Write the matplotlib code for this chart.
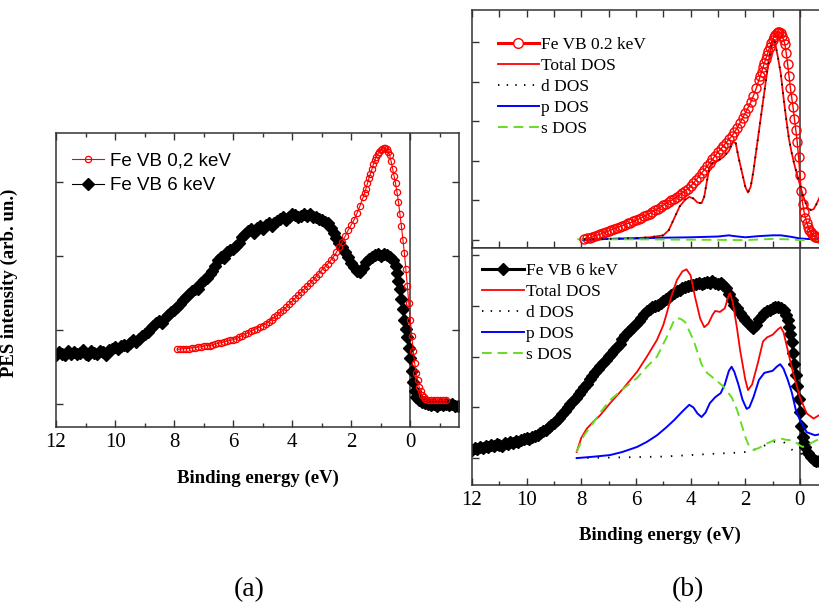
import numpy as np
import matplotlib
matplotlib.use("Agg")
import matplotlib.pyplot as plt
from matplotlib.ticker import MultipleLocator

plt.rcParams['font.family'] = ['Liberation Serif', 'DejaVu Serif']

# ======================================================
# DATA
# ======================================================
# ---- panel (a): Fe VB 0,2 keV (red open circles)
e_a_soft = [7.9, 7.8, 7.7, 7.6, 7.5, 7.4, 7.3, 7.2, 7.1, 7.0,
            6.9, 6.8, 6.7, 6.6, 6.5, 6.4, 6.3, 6.2, 6.1, 6.0,
            5.9, 5.8, 5.7, 5.6, 5.5, 5.4, 5.3, 5.2, 5.1, 5.0,
            4.9, 4.8, 4.7, 4.6, 4.5, 4.4, 4.3, 4.2, 4.1, 4.0,
            3.9, 3.8, 3.7, 3.6, 3.5, 3.4, 3.3, 3.2, 3.1, 3.0,
            2.9, 2.8, 2.7, 2.6, 2.5, 2.4, 2.3, 2.2, 2.1, 2.0,
            1.9, 1.8, 1.7, 1.6, 1.55, 1.5, 1.45, 1.4, 1.35, 1.3,
            1.25, 1.2, 1.15, 1.1, 1.05, 1.0, 0.95, 0.9, 0.85, 0.8,
            0.75, 0.7, 0.65, 0.6, 0.55, 0.5, 0.45, 0.4, 0.35, 0.3,
            0.25, 0.2, 0.15, 0.1, 0.05, 0.0, -0.05, -0.1, -0.15, -0.2,
            -0.25, -0.3, -0.35, -0.4, -0.45, -0.5, -0.6, -0.7, -0.8, -0.9,
            -1.0, -1.1, -1.2]
i_a_soft = [0.74, 0.74, 0.75, 0.75, 0.75, 0.76, 0.76, 0.77, 0.77, 0.78,
            0.79, 0.79, 0.80, 0.81, 0.82, 0.83, 0.84, 0.85, 0.86, 0.87,
            0.88, 0.90, 0.92, 0.94, 0.96, 0.98, 1.00, 1.02, 1.04, 1.06,
            1.08, 1.11, 1.14, 1.17, 1.20, 1.24, 1.27, 1.31, 1.35, 1.39,
            1.43, 1.47, 1.51, 1.55, 1.59, 1.63, 1.67, 1.72, 1.76, 1.81,
            1.85, 1.89, 1.94, 1.99, 2.05, 2.12, 2.19, 2.27, 2.35, 2.42,
            2.49, 2.58, 2.68, 2.79, 2.85, 2.91, 2.98, 3.05, 3.11, 3.17,
            3.24, 3.29, 3.34, 3.38, 3.41, 3.43, 3.45, 3.46, 3.46, 3.44,
            3.41, 3.36, 3.28, 3.18, 3.08, 2.98, 2.86, 2.73, 2.56, 2.40,
            2.22, 2.04, 1.82, 1.60, 1.36, 1.14, 0.92, 0.72, 0.55, 0.42,
            0.32, 0.23, 0.17, 0.12, 0.09, 0.07, 0.05, 0.05, 0.05, 0.05,
            0.05, 0.05, 0.05]

# ---- panel (a): Fe VB 6 keV (black diamonds)
e_a_hard = [12.0, 11.9, 11.8, 11.7, 11.6, 11.5, 11.4, 11.3, 11.2, 11.1,
            11.0, 10.9, 10.8, 10.7, 10.6, 10.5, 10.4, 10.3, 10.2, 10.1,
            10.0, 9.9, 9.8, 9.7, 9.6, 9.5, 9.4, 9.3, 9.2, 9.1,
            9.0, 8.9, 8.8, 8.7, 8.6, 8.5, 8.4, 8.3, 8.2, 8.1,
            8.0, 7.9, 7.8, 7.7, 7.6, 7.5, 7.4, 7.3, 7.2, 7.1,
            7.0, 6.9, 6.8, 6.7, 6.6, 6.5, 6.4, 6.3, 6.2, 6.1,
            6.0, 5.9, 5.8, 5.7, 5.6, 5.5, 5.4, 5.3, 5.2, 5.1,
            5.0, 4.9, 4.8, 4.7, 4.6, 4.5, 4.4, 4.3, 4.2, 4.1,
            4.0, 3.9, 3.8, 3.7, 3.6, 3.5, 3.4, 3.3, 3.2, 3.1,
            3.0, 2.9, 2.8, 2.7, 2.6, 2.5, 2.4, 2.3, 2.2, 2.1,
            2.0, 1.9, 1.8, 1.7, 1.6, 1.5, 1.4, 1.3, 1.2, 1.1,
            1.0, 0.9, 0.8, 0.7, 0.6, 0.5, 0.45, 0.4, 0.35, 0.3,
            0.25, 0.2, 0.15, 0.1, 0.05, 0.0, -0.05, -0.1, -0.15, -0.2,
            -0.3, -0.4, -0.5, -0.6, -0.7, -0.8, -0.9, -1.0, -1.1, -1.2,
            -1.3, -1.4, -1.5, -1.6]
i_a_hard = [0.66, 0.70, 0.68, 0.66, 0.71, 0.68, 0.70, 0.67, 0.69, 0.73,
            0.68, 0.66, 0.71, 0.69, 0.67, 0.72, 0.70, 0.66, 0.73, 0.75,
            0.77, 0.75, 0.78, 0.80, 0.79, 0.83, 0.86, 0.84, 0.88, 0.92,
            0.95, 0.97, 1.02, 1.06, 1.09, 1.12, 1.10, 1.16, 1.20, 1.24,
            1.27, 1.31, 1.35, 1.40, 1.44, 1.49, 1.53, 1.56, 1.55, 1.63,
            1.67, 1.70, 1.76, 1.80, 1.87, 1.95, 1.99, 1.97, 2.05, 2.08,
            2.10, 2.13, 2.18, 2.25, 2.29, 2.33, 2.36, 2.31, 2.38, 2.40,
            2.37, 2.42, 2.45, 2.40, 2.44, 2.47, 2.50, 2.52, 2.49, 2.53,
            2.56, 2.55, 2.53, 2.54, 2.56, 2.54, 2.57, 2.53, 2.52, 2.50,
            2.48, 2.46, 2.45, 2.38, 2.31, 2.24, 2.18, 2.12, 2.05, 1.98,
            1.90, 1.85, 1.80, 1.78, 1.84, 1.92, 1.96, 1.98, 2.01, 2.02,
            2.00, 2.02, 2.01, 1.99, 1.95, 1.86, 1.77, 1.66, 1.55, 1.42,
            1.28, 1.14, 1.02, 0.90, 0.76, 0.62, 0.45, 0.30, 0.18, 0.10,
            0.05, 0.03, 0.02, 0.00, -0.01, 0.00, -0.02, 0.00, -0.01, 0.00,
            -0.01, 0.00, -0.02, -0.03]

# ---- panel (b) top: Fe VB 0.2 keV + calculated DOS
e_b_soft = [7.9, 7.8, 7.7, 7.6, 7.5, 7.4, 7.3, 7.2, 7.1, 7.0,
            6.9, 6.8, 6.7, 6.6, 6.5, 6.4, 6.3, 6.2, 6.1, 6.0,
            5.9, 5.8, 5.7, 5.6, 5.5, 5.4, 5.3, 5.2, 5.1, 5.0,
            4.9, 4.8, 4.7, 4.6, 4.5, 4.4, 4.3, 4.2, 4.1, 4.0,
            3.9, 3.8, 3.7, 3.6, 3.5, 3.4, 3.3, 3.2, 3.1, 3.0,
            2.9, 2.8, 2.7, 2.6, 2.5, 2.4, 2.3, 2.2, 2.1, 2.0,
            1.9, 1.8, 1.7, 1.6, 1.5, 1.45, 1.4, 1.35, 1.3, 1.25,
            1.2, 1.15, 1.1, 1.05, 1.0, 0.95, 0.9, 0.85, 0.8, 0.75,
            0.7, 0.65, 0.6, 0.55, 0.5, 0.45, 0.4, 0.35, 0.3, 0.25,
            0.2, 0.15, 0.1, 0.05, 0.0, -0.05, -0.1, -0.15, -0.2, -0.25,
            -0.3, -0.35, -0.4, -0.45, -0.5, -0.55, -0.6, -0.7, -0.8, -0.9,
            -1.0, -1.2, -1.4, -1.6]
i_b_soft = [0.02, 0.04, 0.06, 0.08, 0.10, 0.13, 0.15, 0.18, 0.20, 0.23,
            0.26, 0.28, 0.31, 0.34, 0.36, 0.39, 0.42, 0.44, 0.47, 0.50,
            0.53, 0.56, 0.60, 0.63, 0.67, 0.71, 0.75, 0.79, 0.83, 0.88,
            0.92, 0.96, 1.00, 1.04, 1.09, 1.14, 1.19, 1.25, 1.30, 1.36,
            1.44, 1.52, 1.60, 1.69, 1.77, 1.86, 1.95, 2.04, 2.13, 2.22,
            2.30, 2.38, 2.46, 2.54, 2.62, 2.72, 2.83, 2.95, 3.08, 3.21,
            3.34, 3.48, 3.65, 3.83, 4.04, 4.15, 4.25, 4.36, 4.47, 4.58,
            4.68, 4.78, 4.88, 4.98, 5.06, 5.13, 5.19, 5.24, 5.26, 5.26,
            5.22, 5.15, 5.06, 4.95, 4.72, 4.45, 4.15, 3.85, 3.60, 3.35,
            3.05, 2.78, 2.48, 2.10, 1.65, 1.25, 0.92, 0.72, 0.56, 0.44,
            0.34, 0.26, 0.20, 0.15, 0.12, 0.09, 0.08, 0.06, 0.05, 0.04,
            0.04, 0.03, 0.03, 0.03]

e_tot_top = [7.9, 7.0, 6.0, 5.5, 5.0, 4.8, 4.6, 4.4, 4.2, 4.05,
             3.9, 3.75, 3.6, 3.5, 3.4, 3.3, 3.2, 3.0, 2.8, 2.6,
             2.45, 2.35, 2.25, 2.1, 2.0, 1.9, 1.8, 1.7, 1.6, 1.5,
             1.4, 1.3, 1.2, 1.1, 1.0, 0.95, 0.9, 0.8, 0.7, 0.6,
             0.5, 0.4, 0.3, 0.2, 0.1, 0.0, -0.1, -0.2, -0.3, -0.4,
             -0.5, -0.6, -0.7, -0.8, -1.0, -1.2, -1.4, -1.6]
tot_top = [0.02, 0.03, 0.05, 0.07, 0.12, 0.25, 0.55, 0.85, 1.02, 1.09,
           1.05, 0.95, 0.93, 1.10, 1.50, 1.85, 1.95, 2.00, 2.10, 2.25,
           2.48, 2.45, 2.10, 1.65, 1.35, 1.20, 1.35, 1.75, 2.25, 2.75,
           3.25, 3.75, 4.25, 4.70, 5.03, 5.05, 4.95, 4.60, 4.20, 3.60,
           3.05, 2.55, 2.20, 1.90, 1.65, 1.40, 1.15, 0.95, 0.80, 0.76,
           0.78, 0.90, 1.05, 1.20, 1.35, 1.45, 1.50, 1.50]
d_top = tot_top  # d DOS lies on top of the total DOS in this panel

e_p_top = [7.95, 7.0, 6.0, 5.0, 4.0, 3.5, 3.0, 2.6, 2.4, 2.0,
           1.5, 1.0, 0.7, 0.3, 0.0, -0.5, -1.0, -1.6]
p_top = [0.00, 0.03, 0.04, 0.06, 0.07, 0.08, 0.09, 0.12, 0.10, 0.07,
         0.10, 0.12, 0.12, 0.08, 0.04, 0.02, 0.02, 0.02]

e_s_top = [8.15, 6.0, 4.0, 2.0, 1.0, 0.5, 0.0, -0.8, -1.6]
s_top = [0.02, 0.02, 0.01, 0.00, 0.03, 0.02, 0.00, 0.00, 0.00]

# ---- panel (b) bottom: Fe VB 6 keV + calculated DOS
e_b_hard = [12.0, 11.9, 11.8, 11.7, 11.6, 11.5, 11.4, 11.3, 11.2, 11.1,
            11.0, 10.9, 10.8, 10.7, 10.6, 10.5, 10.4, 10.3, 10.2, 10.1,
            10.0, 9.9, 9.8, 9.7, 9.6, 9.5, 9.4, 9.3, 9.2, 9.1,
            9.0, 8.9, 8.8, 8.7, 8.6, 8.5, 8.4, 8.3, 8.2, 8.1,
            8.0, 7.9, 7.8, 7.7, 7.6, 7.5, 7.4, 7.3, 7.2, 7.1,
            7.0, 6.9, 6.8, 6.7, 6.6, 6.5, 6.4, 6.3, 6.2, 6.1,
            6.0, 5.9, 5.8, 5.7, 5.6, 5.5, 5.4, 5.3, 5.2, 5.1,
            5.0, 4.9, 4.8, 4.7, 4.6, 4.5, 4.4, 4.3, 4.2, 4.1,
            4.0, 3.9, 3.8, 3.7, 3.6, 3.5, 3.4, 3.3, 3.2, 3.1,
            3.0, 2.9, 2.8, 2.7, 2.6, 2.5, 2.4, 2.3, 2.2, 2.1,
            2.0, 1.9, 1.8, 1.7, 1.6, 1.5, 1.4, 1.3, 1.2, 1.1,
            1.0, 0.9, 0.8, 0.7, 0.6, 0.5, 0.45, 0.4, 0.35, 0.3,
            0.25, 0.2, 0.15, 0.1, 0.05, 0.0, -0.05, -0.1, -0.15, -0.2,
            -0.3, -0.4, -0.5, -0.6, -0.7, -0.8, -0.9, -1.0, -1.2, -1.4,
            -1.6]
i_b_hard = [0.16, 0.20, 0.17, 0.22, 0.19, 0.24, 0.21, 0.25, 0.23, 0.27,
            0.26, 0.24, 0.29, 0.27, 0.31, 0.29, 0.33, 0.31, 0.35, 0.38,
            0.39, 0.37, 0.41, 0.44, 0.46, 0.49, 0.53, 0.56, 0.62, 0.66,
            0.70, 0.75, 0.80, 0.86, 0.93, 1.01, 1.06, 1.12, 1.19, 1.26,
            1.32, 1.40, 1.47, 1.55, 1.61, 1.69, 1.76, 1.82, 1.88, 1.94,
            2.01, 2.06, 2.13, 2.19, 2.25, 2.34, 2.42, 2.48, 2.53, 2.58,
            2.65, 2.70, 2.76, 2.83, 2.89, 2.93, 2.97, 3.00, 3.02, 3.06,
            3.10, 3.14, 3.18, 3.22, 3.26, 3.29, 3.32, 3.35, 3.37, 3.39,
            3.41, 3.42, 3.44, 3.45, 3.43, 3.46, 3.47, 3.45, 3.48, 3.46,
            3.44, 3.45, 3.42, 3.35, 3.24, 3.12, 3.02, 2.95, 2.86, 2.78,
            2.73, 2.66, 2.60, 2.56, 2.62, 2.74, 2.80, 2.85, 2.89, 2.92,
            2.95, 2.97, 2.98, 2.96, 2.91, 2.82, 2.72, 2.58, 2.44, 2.28,
            2.08, 1.85, 1.64, 1.42, 1.16, 0.90, 0.64, 0.42, 0.30, 0.22,
            0.10, 0.02, -0.03, -0.06, -0.06, -0.07, -0.07, -0.07, -0.07, -0.07,
            -0.07]

e_tot_bot = [8.17, 8.0, 7.8, 7.57, 7.3, 6.95, 6.5, 5.96, 5.6, 5.23,
             5.0, 4.87, 4.7, 4.5, 4.3, 4.15, 4.0, 3.84, 3.65, 3.5,
             3.35, 3.2, 3.1, 2.93, 2.75, 2.6, 2.55, 2.45, 2.3, 2.19,
             2.0, 1.9, 1.75, 1.55, 1.35, 1.2, 1.0, 0.8, 0.7, 0.6,
             0.5, 0.25, 0.0, -0.25, -0.5, -0.75, -1.0, -1.6]
tot_bot = [0.12, 0.40, 0.58, 0.71, 0.85, 1.08, 1.35, 1.70, 2.00, 2.33,
           2.62, 2.86, 3.20, 3.51, 3.68, 3.72, 3.60, 3.18, 2.75, 2.58,
           2.65, 2.82, 2.90, 2.88, 2.95, 3.22, 3.25, 3.05, 2.55, 2.13,
           1.55, 1.34, 1.45, 1.85, 2.30, 2.38, 2.43, 2.54, 2.58, 2.48,
           2.25, 1.68, 1.20, 0.88, 0.78, 0.86, 0.95, 1.05]

e_p_bot = [8.17, 7.5, 6.95, 6.5, 5.96, 5.6, 5.23, 4.9, 4.6, 4.3,
           4.05, 3.9, 3.75, 3.6, 3.45, 3.3, 3.1, 2.9, 2.75, 2.6,
           2.5, 2.4, 2.25, 2.1, 1.95, 1.85, 1.7, 1.5, 1.3, 1.0,
           0.85, 0.72, 0.6, 0.45, 0.3, 0.15, 0.0, -0.25, -0.55, -1.0,
           -1.6]
p_bot = [0.00, 0.03, 0.06, 0.12, 0.22, 0.32, 0.45, 0.60, 0.75, 0.92,
         1.05, 1.00, 0.88, 0.81, 0.90, 1.08, 1.20, 1.28, 1.45, 1.72,
         1.80, 1.70, 1.45, 1.15, 0.97, 1.00, 1.20, 1.54, 1.68, 1.72,
         1.80, 1.85, 1.76, 1.55, 1.30, 0.95, 0.75, 0.51, 0.45, 0.50,
         0.50]

e_s_bot = [8.17, 7.9, 7.57, 7.3, 6.95, 6.5, 5.96, 5.6, 5.23, 4.87,
           4.6, 4.5, 4.35, 4.2, 4.0, 3.86, 3.6, 3.4, 3.1, 2.8,
           2.5, 2.3, 2.1, 2.0, 1.85, 1.7, 1.5, 1.2, 0.95, 0.73,
           0.5, 0.25, 0.0, -0.1, -0.35, -0.6, -1.0, -1.6]
s_bot = [0.12, 0.45, 0.69, 0.90, 1.14, 1.35, 1.58, 1.80, 2.00, 2.39,
         2.72, 2.76, 2.74, 2.68, 2.45, 2.27, 1.85, 1.68, 1.55, 1.41,
         1.20, 0.95, 0.60, 0.42, 0.22, 0.16, 0.20, 0.29, 0.35, 0.39,
         0.36, 0.35, 0.25, 0.22, 0.28, 0.35, 0.40, 0.40]

e_d_bot = [8.17, 7.0, 6.0, 5.0, 4.0, 3.0, 2.5, 2.0, 1.7, 1.4,
           1.1, 0.8, 0.6, 0.4, 0.2, 0.0, -0.2, -0.5, -0.8, -1.6]
d_bot = [0.00, 0.01, 0.02, 0.03, 0.06, 0.09, 0.10, 0.12, 0.16, 0.22,
         0.30, 0.34, 0.32, 0.22, 0.12, 0.08, 0.10, 0.16, 0.20, 0.22]

# ======================================================
# FIGURE
# ======================================================
W, H = 820, 604
fig = plt.figure(figsize=(W / 100, H / 100), dpi=100)

def px_axes(left, top, right, bottom):
    return fig.add_axes([left / W, 1 - bottom / H, (right - left) / W, (bottom - top) / H])

spine_col = '#333333'
green = '#66dd22'

def style_axes(ax, top_ticks=False, labels=True):
    for s in ax.spines.values():
        s.set_color(spine_col)
        s.set_linewidth(1.1)
    ax.xaxis.set_major_locator(MultipleLocator(2))
    ax.xaxis.set_minor_locator(MultipleLocator(1))
    ax.yaxis.set_major_locator(MultipleLocator(1))
    ax.yaxis.set_minor_locator(plt.NullLocator())
    ax.tick_params(axis='both', which='both', direction='in', color=spine_col,
                   top=top_ticks, bottom=True, right=False,
                   labelleft=False, labelbottom=labels, labelsize=15, pad=4)
    ax.tick_params(which='major', length=5, width=1)
    ax.tick_params(which='minor', length=3, width=1)
    ax.set_xlim(12, -1.65)
    ax.xaxis.set_major_formatter(plt.FuncFormatter(lambda v, p: f"{v:.0f}"))
    ax.axvline(0, color=spine_col, lw=1.1, zorder=1)

# ---------- (a)
ax_a = px_axes(56, 133, 459, 427)
style_axes(ax_a, top_ticks=True)
ax_a.tick_params(axis='y', right=True)
ax_a.set_ylim(-0.31, 3.66)
ax_a.plot(e_a_soft, i_a_soft, color='red', lw=0.8, marker='o', ms=4.5,
          mfc='none', mec='red', mew=0.9, label='Fe VB 0,2 keV', zorder=3)
ax_a.plot(e_a_hard, i_a_hard, color='black', lw=0.8, marker='D', ms=5.8,
          mfc='black', mec='black', label='Fe VB 6 keV', zorder=2)
ax_a.set_xlabel('Binding energy (eV)', fontsize=13.5, fontweight='bold')
ax_a.xaxis.set_label_coords(0.5, -0.145)
ax_a.set_ylabel('PES intensity (arb. un.)', fontsize=13.5, fontweight='bold')
ax_a.yaxis.set_label_coords(-0.094, 0.49)
ax_a.legend(loc='upper left', bbox_to_anchor=(0.02, 0.96), frameon=False,
            prop={'family': 'Liberation Sans', 'size': 13.5},
            handlelength=1.75, handletextpad=0.3, labelspacing=0.42,
            borderaxespad=0.0)

# ---------- (b) top
ax_t = px_axes(472, 10, 845, 248)
style_axes(ax_t, top_ticks=True, labels=False)
ax_t.xaxis.set_major_locator(MultipleLocator(1))
ax_t.set_ylim(-0.2, 5.81)
ax_t.plot(e_b_soft, i_b_soft, color='red', lw=1.0, marker='o', ms=6.5,
          mfc='none', mec='red', mew=1.0, zorder=4)
ax_t.plot(e_tot_top, tot_top, color='red', lw=1.3, zorder=3)
ax_t.plot(e_tot_top, d_top, color='black', lw=1.3, ls=(0, (0.8, 4)), zorder=5)
ax_t.plot(e_p_top, p_top, color='blue', lw=1.4, zorder=3)
ax_t.plot(e_s_top, s_top, color=green, lw=1.4, ls=(0, (5, 3)), zorder=3)

# legend handles
h_soft, = ax_t.plot([], [], color='red', lw=2.2, marker='o', ms=7, mfc='white', mec='red', mew=1.0)
h_tot, = ax_t.plot([], [], color='red', lw=1.3)
h_d, = ax_t.plot([], [], color='black', lw=1.3, ls=(0, (0.8, 4)))
h_p, = ax_t.plot([], [], color='blue', lw=1.4)
h_s, = ax_t.plot([], [], color=green, lw=1.4, ls=(0, (5, 3)))
ax_t.legend([h_soft, h_tot, h_d, h_p, h_s],
            ['Fe VB 0.2 keV', 'Total DOS', 'd DOS', 'p DOS', 's DOS'],
            loc='upper left', bbox_to_anchor=(0.05, 0.915), frameon=False,
            prop={'size': 12.5}, handlelength=2.4, handletextpad=0.12,
            labelspacing=0.28, borderaxespad=0.0)

# ---------- (b) bottom
ax_b = px_axes(472, 248, 845, 485)
style_axes(ax_b, top_ticks=False)
ax_b.set_ylim(-0.53, 4.14)
ax_b.plot(e_b_hard, i_b_hard, color='black', lw=1.0, marker='D', ms=6,
          mfc='black', mec='black', zorder=2)
ax_b.plot(e_tot_bot, tot_bot, color='red', lw=1.3, zorder=3)
ax_b.plot(e_d_bot, d_bot, color='black', lw=1.3, ls=(0, (0.8, 5)), zorder=3)
ax_b.plot(e_p_bot, p_bot, color='blue', lw=1.4, zorder=3)
ax_b.plot(e_s_bot, s_bot, color=green, lw=1.4, ls=(0, (5, 3)), zorder=3)
ax_b.set_xlabel('Binding energy (eV)', fontsize=13.5, fontweight='bold')
ax_b.xaxis.set_label_coords(0.504, -0.177)

h_hard, = ax_b.plot([], [], color='black', lw=2.2, marker='D', ms=6, mfc='black', mec='black')
ax_b.legend([h_hard, h_tot, h_d, h_p, h_s],
            ['Fe VB 6 keV', 'Total DOS', 'd DOS', 'p DOS', 's DOS'],
            loc='upper left', bbox_to_anchor=(0.008, 0.965), frameon=False,
            prop={'size': 12.5}, handlelength=2.4, handletextpad=0.12,
            labelspacing=0.28, borderaxespad=0.0)

# panel letters
fig.text(249 / W, 1 - 590 / H, '(a)', fontsize=20, ha='center', va='center')
fig.text(688 / W, 1 - 590 / H, '(b)', fontsize=20, ha='center', va='center')

fig.savefig('out.png', dpi=100)
